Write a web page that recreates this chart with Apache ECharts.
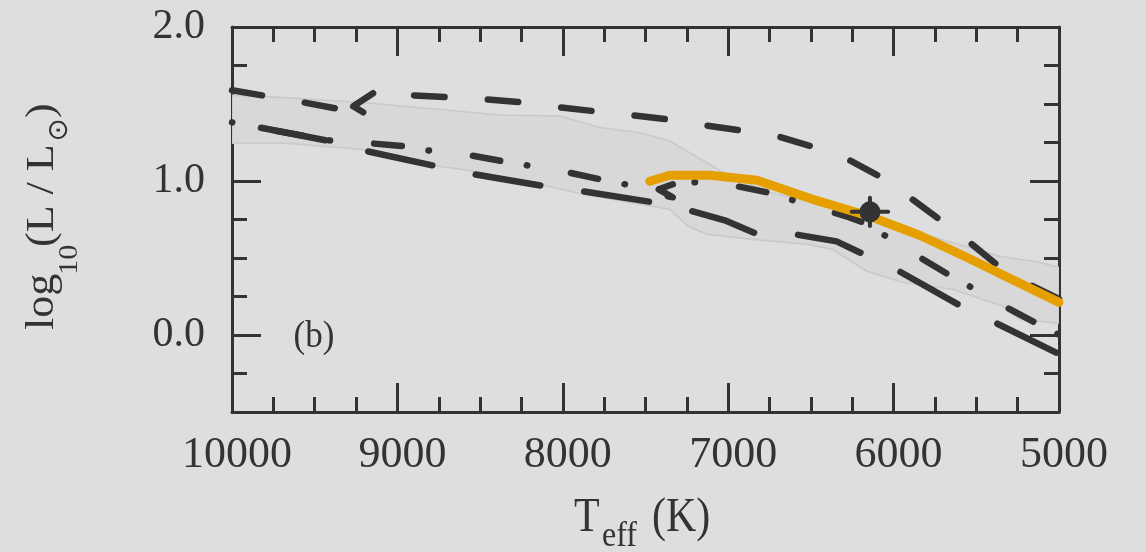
<!DOCTYPE html>
<html>
<head>
<meta charset="utf-8">
<script src="https://cdn.jsdelivr.net/npm/echarts@6/dist/echarts.min.js"></script>
<style>
html,body{margin:0;padding:0;background:#dddee0;}
#chart{width:1146px;height:552px;}
</style>
</head>
<body>
<div id="chart"></div>
<script>
// ---- tick labels ----
const xTicks = [10000, 9000, 8000, 7000, 6000, 5000];
const yTicks = [0, 1, 2];

// ---- shaded band (upper and lower edges) [Teff, logL] ----
const bandUpper = [[10000,1.556],[9789,1.548],[9225,1.511],[8380,1.429],[8017,1.422],[7776,1.347],[7534,1.313],[7353,1.260],[6991,1.032],[6749,0.927],[6447,0.849],[6145,0.764],[5964,0.699],[5360,0.511],[5118,0.472],[5000,0.440]];
const bandLower = [[10000,1.245],[9668,1.245],[9225,1.206],[8762,1.097],[8543,1.065],[8098,0.968],[7878,0.914],[7534,0.849],[7353,0.816],[7244,0.708],[7131,0.654],[6852,0.621],[6528,0.589],[6369,0.556],[6165,0.416],[5946,0.342],[5644,0.297],[5342,0.188],[5240,0.102],[5000,0.076]];

// ---- track A (dashed, upper) ----
const trackA_left  = [[10000,1.589],[9787,1.550],[9570,1.511],[9346,1.466],[9207,1.446]];
const trackA_hook  = [[9207,1.446],[9267,1.485],[9147,1.570]];
const trackA_right = [[9147,1.570],[8917,1.557],[8694,1.544],[8470,1.531],[8247,1.511],[8030,1.479],[7806,1.453],[7583,1.427],[7371,1.401],[7142,1.362],[6930,1.329],[6701,1.290],[6495,1.225],[6278,1.141],[6085,1.031],[5904,0.894],[5722,0.751],[5541,0.602],[5378,0.459],[5179,0.329],[5000,0.235]];

// ---- track B (long dashes, lower) ----
const trackB = [[10000,1.381],[9841,1.349],[9406,1.258],[9183,1.193],[8760,1.095],[8531,1.043],[8108,0.966],[7878,0.933],[7456,0.862],[7214,0.803],[7021,0.745],[6822,0.654],[6598,0.654],[6345,0.608],[6194,0.531],[5977,0.420],[5602,0.194],[5391,0.083],[5010,-0.118],[5000,-0.125]];

// ---- track C (dash-dot, middle) ----
const trackC_left  = [[10000,1.381],[9769,1.333],[9412,1.264],[9165,1.245],[8953,1.225],[8815,1.199],[8561,1.167],[8362,1.128],[8217,1.102],[7969,1.056],[7776,1.011],[7625,0.979],[7413,0.914]];
const trackC_hook  = [[7365,0.901],[7335,0.894],[7420,0.946],[7335,0.979]];
const trackC_right = [[7335,0.979],[7202,0.992],[6948,0.966],[6767,0.927],[6266,0.764],[6187,0.732],[6054,0.647],[5843,0.505],[5661,0.388],[5541,0.316],[5318,0.180],[5136,0.076],[5016,0.011],[5000,0.001]];

// ---- orange track ----
const trackOrange = [[7474,0.998],[7353,1.037],[7111,1.037],[6827,1.005],[6489,0.881],[6145,0.771],[5843,0.648],[5559,0.505],[5000,0.212]];

// ---- observed star ----
const obsTeff = [6143];
const obsLogL = [0.80];
const obsTeffErr = [110];
const obsLogLErr = [0.092];

const ink = '#333333';
const serif = '"Liberation Serif", "Times New Roman", serif';

function track(data, dash, offset, width, color, z) {
  return {
    type: 'line', data: data, xAxisIndex: 0, yAxisIndex: 0,
    symbol: 'none', showSymbol: false, silent: true, z: z, clip: true,
    lineStyle: { color: color, width: width, type: dash, dashOffset: offset, cap: 'round', join: 'round' }
  };
}

function xAx(pos, showLabel) {
  return {
    type: 'value', position: pos, min: 5000, max: 10000, interval: 1000, inverse: true,
    axisLine: { show: true, onZero: false, lineStyle: { color: ink, width: 3 } },
    axisTick: { show: true, inside: true, length: 29, lineStyle: { color: ink, width: 3 } },
    minorTick: { show: true, splitNumber: 4, length: 15, lineStyle: { color: ink, width: 3 } },
    splitLine: { show: false }, minorSplitLine: { show: false },
    axisLabel: { show: showLabel, customValues: xTicks, margin: 21, padding: [0, 0, 0, 10],
      fontFamily: serif, fontSize: 44, color: ink, formatter: v => String(v) }
  };
}
function yMinor(pos) {
  return {
    type: 'value', position: pos, min: -0.5, max: 2, interval: 0.25,
    axisLine: { show: true, onZero: false, lineStyle: { color: ink, width: 3 } },
    axisTick: { show: true, inside: true, length: 15, lineStyle: { color: ink, width: 3 } },
    axisLabel: { show: false }, splitLine: { show: false }
  };
}
function yMajor(pos, showLabel) {
  return {
    type: 'value', position: pos, min: -0.5, max: 2, interval: 0.25,
    axisLine: { show: false },
    axisTick: { show: true, inside: true, length: 29, customValues: yTicks, lineStyle: { color: ink, width: 3 } },
    axisLabel: { show: showLabel, customValues: yTicks, formatter: v => v.toFixed(1), margin: 27,
      fontFamily: serif, fontSize: 42, color: ink },
    splitLine: { show: false }
  };
}

const bandPolygon = bandUpper.concat(bandLower.slice().reverse());
const rot = Math.PI / 2;

const option = {
  backgroundColor: '#dddee0',
  animation: false,
  textStyle: { fontFamily: serif, color: ink },
  grid: { left: 232, right: 87, top: 27, bottom: 140, containLabel: false },
  xAxis: [xAx('bottom', true), xAx('top', false)],
  yAxis: [yMinor('left'), yMajor('left', true), yMinor('right'), yMajor('right', false)],
  series: [
    {
      type: 'custom', xAxisIndex: 0, yAxisIndex: 0, silent: true, z: 1, clip: true,
      data: bandPolygon,
      renderItem: function (params, api) {
        if (params.dataIndex !== 0) return null;
        const pts = bandPolygon.map(p => api.coord(p));
        return { type: 'polygon', shape: { points: pts },
          style: { fill: '#d8d8d9', stroke: '#c9c9ca', lineWidth: 1.6 } };
      }
    },
    track(trackB, [65.5, 44.4], 80.4, 6.5, ink, 2),
    track(trackC_left, [27.8, 27.0, 0.5, 44.2], 55.05, 6.5, ink, 2),
    track(trackC_hook, 'solid', 0, 6.5, ink, 2),
    track(trackC_right, [27.8, 27.0, 0.5, 44.2], 32.95, 6.5, ink, 2),
    track(trackA_left, [30.5, 43.3], 0, 6.5, ink, 2),
    track(trackA_hook, 'solid', 0, 6.5, ink, 2),
    track(trackA_right, [30.5, 43.3], 32.7, 6.5, ink, 2),
    track(trackOrange, 'solid', 0, 9, '#E69F00', 3),
    {
      type: 'custom', xAxisIndex: 0, yAxisIndex: 0, silent: true, z: 4,
      data: obsTeff.map((t, i) => [t, obsLogL[i], obsTeffErr[i], obsLogLErr[i]]),
      renderItem: function (params, api) {
        const x = api.value(0), y = api.value(1), ex = api.value(2), ey = api.value(3);
        const l = api.coord([x + ex, y]), r = api.coord([x - ex, y]);
        const t = api.coord([x, y + ey]), b = api.coord([x, y - ey]);
        return { type: 'group', children: [
          { type: 'line', shape: { x1: l[0], y1: l[1], x2: r[0], y2: r[1] }, style: { stroke: ink, lineWidth: 4, lineCap: 'round' } },
          { type: 'line', shape: { x1: t[0], y1: t[1], x2: b[0], y2: b[1] }, style: { stroke: ink, lineWidth: 4, lineCap: 'round' } }
        ] };
      }
    },
    {
      type: 'scatter', xAxisIndex: 0, yAxisIndex: 0, silent: true, z: 5,
      data: obsTeff.map((t, i) => [t, obsLogL[i]]),
      symbol: 'circle', symbolSize: 21, itemStyle: { color: ink, opacity: 1 }
    }
  ],
  graphic: [
    { type: 'text', x: 314, y: 337, scaleY: 1.1, style: { text: '(b)', fontFamily: serif, fontSize: 35, fill: ink, align: 'center', verticalAlign: 'middle' } },
    { type: 'text', x: 574, y: 518.8, scaleY: 1.14, style: { text: 'T', fontFamily: serif, fontSize: 42, fill: ink, align: 'left', verticalAlign: 'middle' } },
    { type: 'text', x: 602, y: 536.5, scaleY: 1.14, style: { text: 'eff', fontFamily: serif, fontSize: 32, fill: ink, align: 'left', verticalAlign: 'middle' } },
    { type: 'text', x: 652, y: 518.8, scaleY: 1.14, style: { text: '(K)', fontFamily: serif, fontSize: 42, fill: ink, align: 'left', verticalAlign: 'middle' } },
    { type: 'text', x: 42.8, y: 330, rotation: rot, scaleX: 1.13, style: { text: 'log', fontFamily: serif, fontSize: 39, fill: ink, align: 'left', verticalAlign: 'middle' } },
    { type: 'text', x: 70, y: 275, rotation: rot, scaleX: 1.13, style: { text: '10', fontFamily: serif, fontSize: 27, fill: ink, align: 'left', verticalAlign: 'middle' } },
    { type: 'text', x: 42.8, y: 247, rotation: rot, scaleX: 1.13, style: { text: '(L / L', fontFamily: serif, fontSize: 39, fill: ink, align: 'left', verticalAlign: 'middle' } },
    { type: 'text', x: 60, y: 130, rotation: rot, style: { text: '\u2299', fontFamily: 'DejaVu Sans', fontSize: 28, fill: ink, align: 'center', verticalAlign: 'middle' } },
    { type: 'text', x: 42.8, y: 118, rotation: rot, scaleX: 1.13, style: { text: ')', fontFamily: serif, fontSize: 39, fill: ink, align: 'left', verticalAlign: 'middle' } }
  ]
};

const chart = echarts.init(document.getElementById('chart'), null, { renderer: 'canvas' });
chart.setOption(option);
</script>
</body>
</html>
